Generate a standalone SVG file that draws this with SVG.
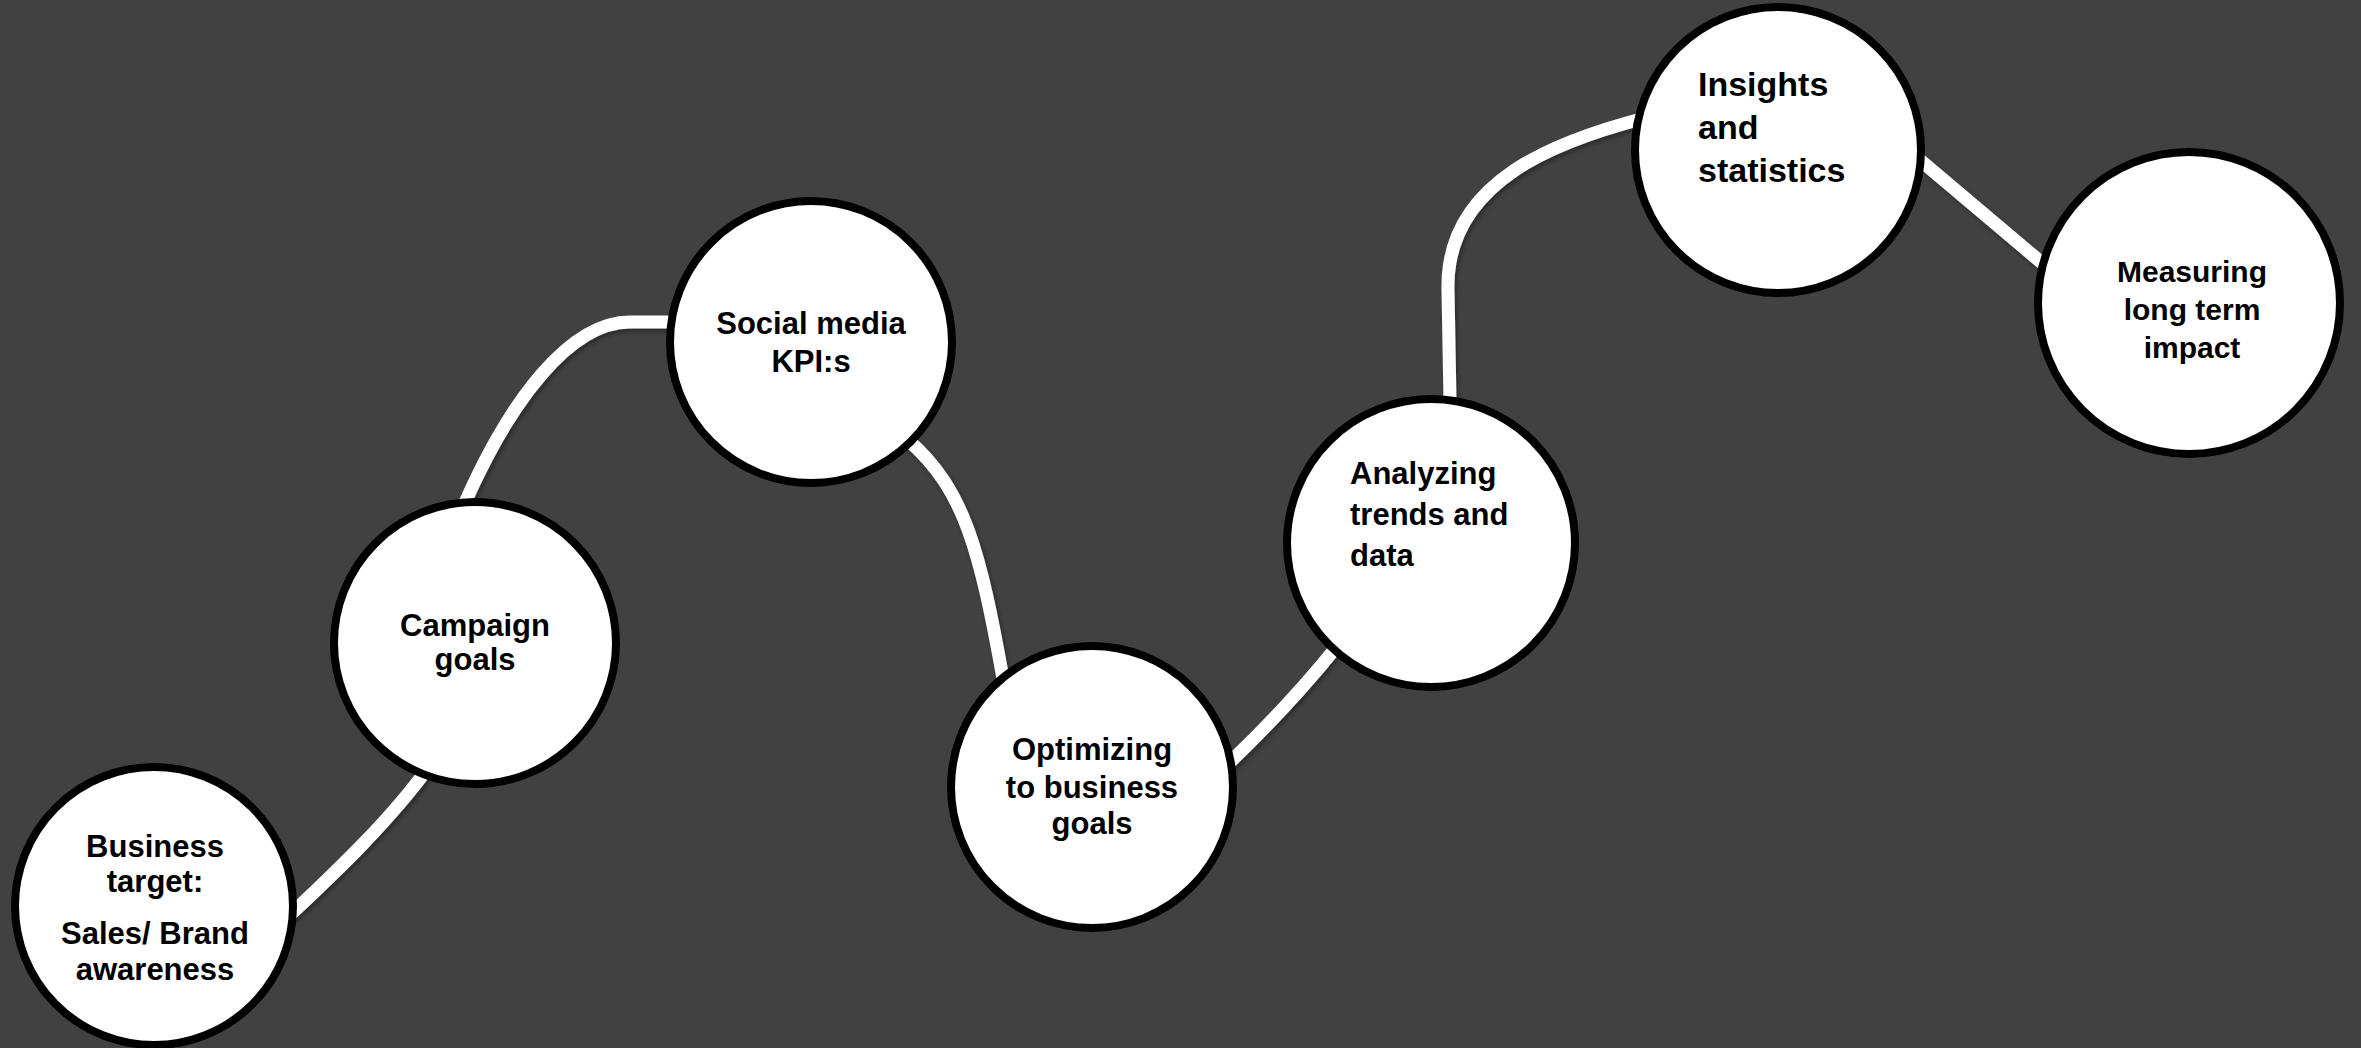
<svg xmlns="http://www.w3.org/2000/svg" width="2361" height="1048" viewBox="0 0 2361 1048">
<defs>
<style>
.node circle{fill:#ffffff;stroke:#000000;stroke-width:8}
.node text{font-family:"Liberation Sans",Arial,sans-serif;font-weight:bold;fill:#000000}
.c{text-anchor:middle}
.l{text-anchor:start}
.conn path{fill:none;stroke:#ffffff;stroke-width:13;stroke-linecap:butt}
</style>
<filter id="sh" x="-10%" y="-10%" width="120%" height="120%">
<feDropShadow dx="2" dy="3" stdDeviation="2" flood-color="#000000" flood-opacity="0.35"/>
</filter>
</defs>
<rect x="0" y="0" width="2361" height="1048" fill="#414141"/>
<g id="connectors" class="conn" filter="url(#sh)">
<path d="M 290 915 C 340 868 390 820 428 768"/>
<path d="M 464 505 C 510 400 570 322 630 322 L 672 322"/>
<path d="M 908 440 C 965 490 980 550 1004 684"/>
<path d="M 1226 766 Q 1290 705 1338 645"/>
<path d="M 1450 402 L 1448 290 C 1445 180 1560 140 1645 118"/>
<path d="M 1920 160 L 2048 268"/>
</g>
<g id="node-business" class="node">
<circle cx="154" cy="906" r="139"/>
<text class="c" font-size="31"><tspan x="155" y="857">Business</tspan><tspan x="155" y="892">target:</tspan><tspan x="155" y="944">Sales/ Brand</tspan><tspan x="155" y="980">awareness</tspan></text>
</g>
<g id="node-campaign" class="node">
<circle cx="475" cy="643" r="141"/>
<text class="c" font-size="31"><tspan x="475" y="636">Campaign</tspan><tspan x="475" y="670">goals</tspan></text>
</g>
<g id="node-social" class="node">
<circle cx="811" cy="342" r="141"/>
<text class="c" font-size="31"><tspan x="811" y="334">Social media</tspan><tspan x="811" y="372">KPI:s</tspan></text>
</g>
<g id="node-optimizing" class="node">
<circle cx="1092" cy="787" r="141"/>
<text class="c" font-size="31"><tspan x="1092" y="760">Optimizing</tspan><tspan x="1092" y="798">to business</tspan><tspan x="1092" y="834">goals</tspan></text>
</g>
<g id="node-analyzing" class="node">
<circle cx="1431" cy="543" r="144"/>
<text class="l" font-size="31"><tspan x="1350" y="484">Analyzing</tspan><tspan x="1350" y="525">trends and</tspan><tspan x="1350" y="566">data</tspan></text>
</g>
<g id="node-insights" class="node">
<circle cx="1778" cy="150" r="143"/>
<text class="l" font-size="34"><tspan x="1698" y="96">Insights</tspan><tspan x="1698" y="139">and</tspan><tspan x="1698" y="182">statistics</tspan></text>
</g>
<g id="node-measuring" class="node">
<circle cx="2189" cy="303" r="151"/>
<text class="c" font-size="30"><tspan x="2192" y="282">Measuring</tspan><tspan x="2192" y="320">long term</tspan><tspan x="2192" y="358">impact</tspan></text>
</g>
</svg>
